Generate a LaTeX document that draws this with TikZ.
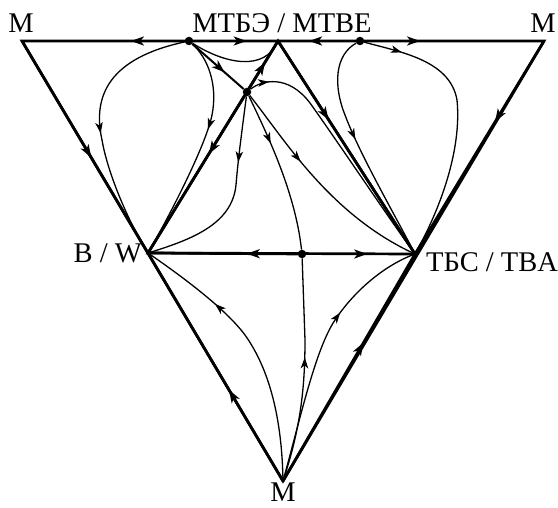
\documentclass[tikz,border=0pt]{standalone}
\usepackage{fontspec}
\setmainfont{Liberation Serif}
\usetikzlibrary{arrows.meta,decorations.markings}
\tikzset{
  bound/.style = {
    line width=2.7pt,
    line join=miter
  },
  flow/.style = {
    line width=1.3pt
  },
  tipat/.style = {
    postaction={decorate},
    decoration={markings,
      mark=at position #1 with {\arrow{Stealth[length=13pt,width=9pt,inset=3.5pt]}}}
  },
  thintip/.style = {
    postaction={decorate},
    decoration={markings,
      mark=at position #1 with {\arrow{Stealth[length=11pt,width=7.5pt,inset=3pt]}}}
  },
  saddle/.style = {
    circle,
    fill,
    inner sep=0pt,
    minimum size=8.5pt
  },
  lbl/.style = {
    font=\fontsize{28.5}{33}\selectfont,
    inner sep=0pt,
    anchor=base
  }
}

\begin{document}
\begin{tikzpicture}[x=1pt,y=-1pt]
  \useasboundingbox (0,0) rectangle (558,508);
  % vertices
  \coordinate (mtl) at (22,41);
  \coordinate (mtr) at (544,41);
  \coordinate (mb) at (283,481);
  \coordinate (mtbe) at (278,41);
  \coordinate (bw) at (148,253);
  \coordinate (tba) at (415,254);
  % singular points
  \node[saddle] (s1) at (189,41) {};
  \node[saddle] (s2) at (360,41) {};
  \node[saddle] (s3) at (247,92) {};
  \node[saddle] (s4) at (302,254) {};
  % labels
  \node[lbl] (lmtl) at (21,33) {M};
  \node[lbl] (lmtbe) at (282,33) {МТБЭ / MTBE};
  \node[lbl] (lmtr) at (543,33) {M};
  \node[lbl, anchor=base east] (lbw) at (142,263) {B / W};
  \node[lbl, anchor=base west] (ltba) at (426,272) {ТБС / TBA};
  \node[lbl] (lmb) at (283,501) {M};
  % triangles
  \draw[bound] (mtl) -- (mtr) -- (mb) -- cycle;
  \draw[bound] (bw) -- (mtbe) -- (tba) -- cycle;
  % arrows on the edges
  \draw[bound, tipat=0.33] (s1) -- (mtl);
  \draw[bound, tipat=0.63] (s1) -- (mtbe);
  \draw[bound, tipat=0.6] (s2) -- (mtbe);
  \draw[bound, tipat=0.31] (s2) -- (mtr);
  \draw[bound, tipat=0.55] (mtl) -- (bw);
  \draw[bound, tipat=0.4] (mb) -- (bw);
  \draw[bound, tipat=0.38] (mtr) -- (tba);
  \draw[bound, tipat=0.61] (mb) -- (tba);
  \draw[bound, tipat=0.55] (s3) -- (mtbe);
  \draw[bound, tipat=0.37] (s3) -- (bw);
  \draw[bound, tipat=0.37] (mtbe) -- (tba);
  \draw[bound, tipat=0.34] (s4) -- (bw);
  \draw[bound, tipat=0.56] (s4) -- (tba);
  \draw[bound, line width=2pt, tipat=0.63] (s1) -- (s3);
  % trajectories
  \draw[flow, thintip=0.52] (s1) .. controls (110,58) and (92,95) .. (102,140)
    .. controls (108,175) and (130,225) .. (bw);
  \draw[flow, thintip=0.4] (s1) .. controls (208,58) and (218,85) .. (212,115)
    .. controls (206,145) and (170,215) .. (bw);
  \draw[flow] (s1) .. controls (225,64) and (265,72) .. (mtbe);
  \draw[flow, thintip=0.08] (s3) .. controls (262,80) and (288,74) .. (310,103)
    .. controls (340,145) and (390,220) .. (tba);
  \draw[flow, thintip=0.32] (s3) .. controls (242,130) and (238,160) .. (236,185)
    .. controls (232,225) and (190,240) .. (bw);
  \draw[flow, thintip=0.32] (s3) .. controls (265,130) and (295,190) .. (s4);
  \draw[flow, thintip=0.36] (s3) .. controls (285,140) and (330,215) .. (tba);
  \draw[flow, thintip=0.56] (mb) .. controls (300,430) and (305,390) .. (305,340) -- (s4);
  \draw[flow, thintip=0.65] (mb) .. controls (300,420) and (315,350) .. (335,320)
    .. controls (355,290) and (385,265) .. (tba);
  \draw[flow, thintip=0.7] (mb) .. controls (282,420) and (270,370) .. (245,335)
    .. controls (225,308) and (180,275) .. (bw);
  \draw[flow, thintip=0.45] (s2) .. controls (335,55) and (333,85) .. (345,115)
    .. controls (360,155) and (395,215) .. (tba);
  \draw[flow, thintip=0.14] (s2) .. controls (400,52) and (450,60) .. (457,100)
    .. controls (462,150) and (440,210) .. (tba);
\end{tikzpicture}
\end{document}
